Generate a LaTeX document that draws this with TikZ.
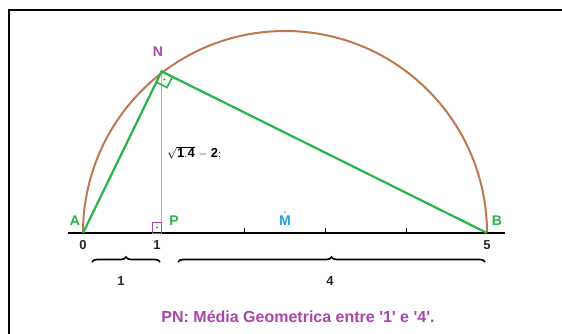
\documentclass[tikz,border=0pt]{standalone}
\usepackage{fontspec}
\setmainfont{Liberation Sans}
\usetikzlibrary{calc,decorations.pathreplacing}
\definecolor{gr}{RGB}{40,180,70}
\definecolor{brn}{RGB}{190,120,80}
\definecolor{pur}{RGB}{170,70,170}
\definecolor{pnk}{RGB}{210,160,210}
\definecolor{cyn}{RGB}{30,160,220}
\tikzset{
  ptlabel/.style={font=\bfseries\fontsize{14}{14}\selectfont, inner sep=0pt},
  numlabel/.style={font=\bfseries\fontsize{13}{13}\selectfont, inner sep=0pt, text=black!85},
  seg/.style={draw=gr, line width=2.2pt},
  bracestyle/.style={draw=black, line width=1.6pt, decorate, decoration={brace, amplitude=5pt}},
}
\begin{document}
\begin{tikzpicture}[x=1pt,y=-1pt]
\useasboundingbox (0,0) rectangle (562,334);
\fill[white] (0,0) rectangle (562,334);
% frame
\draw[line width=1.6pt] (9,334) -- (9,10) -- (562,10);
% points
\coordinate (A) at (83,233);
\coordinate (B) at (487,233);
\coordinate (M) at (285,233);
\coordinate (P) at (161.6,233);
\coordinate (N) at (161.6,71.4);
\coordinate (axL) at (68,233);
\coordinate (axR) at (505,233);
% semicircle
\draw[brn, line width=2pt] (A) arc[start angle=180, end angle=360, radius=202];
% axis
\draw[line width=2.2pt] (axL) -- (axR);
\foreach \x/\n in {244.6/t2, 325.4/t3, 406.2/t4} {
  \coordinate (\n) at (\x,233);
  \draw[line width=1pt] (\n) -- ++(0,-5);
}
% altitude
\draw[pnk, line width=1pt] (P) -- (N);
% right angle at P
\draw[pur, line width=0.9pt] (P) rectangle ++(-9,-11);
\fill[pur] ($(P)+(-4.5,-5.5)$) circle (1pt);
% triangle sides
\draw[seg] (A) -- (N) -- (B);
% right angle at N
\coordinate (na) at ($(N)!12pt!(A)$);
\coordinate (nb) at ($(N)!12pt!(B)$);
\draw[gr, line width=1.6pt] (na) -- ($(na)+(nb)-(N)$) -- (nb);
\fill[gr] ($(N)!0.5!($(na)+(nb)-(N)$)$) circle (1.3pt);
% labels
\node[ptlabel, text=gr] (lA) at (75,221) {A};
\node[ptlabel, text=gr] (lP) at (174,221) {P};
\node[ptlabel, text=gr] (lB) at (497,221) {B};
\node[ptlabel, text=pur] (lN) at (158,52) {N};
\node[ptlabel, text=cyn] (lM) at (285,221) {M};
\fill[cyn] (285,212) circle (0.9pt);
\node[numlabel] (n0) at (83,245) {0};
\node[numlabel] (n1) at (157,245) {1};
\node[numlabel] (n5) at (487,245) {5};
\node[inner sep=0pt, anchor=west, font=\fontsize{13}{13}\selectfont] (eq) at (167,153) {$\sqrt{\mathbf{1.4}}\;\mathbf{-\;2;}$};
% braces
\coordinate (b1s) at (92,262);
\coordinate (b1e) at (160,262);
\coordinate (b2s) at (178,262);
\coordinate (b2e) at (485,262);
\draw[bracestyle] (b1s) -- (b1e);
\draw[bracestyle] (b2s) -- (b2e);
\node[numlabel] (l1) at (121,281) {1};
\node[numlabel] (l4) at (330,281) {4};
% caption
\node[inner sep=0pt, text=pur, font=\bfseries\fontsize{16}{16}\selectfont] (cap) at (298,317) {PN: Média Geometrica entre \textquotesingle 1\textquotesingle{} e \textquotesingle 4\textquotesingle .};
\end{tikzpicture}
\end{document}
